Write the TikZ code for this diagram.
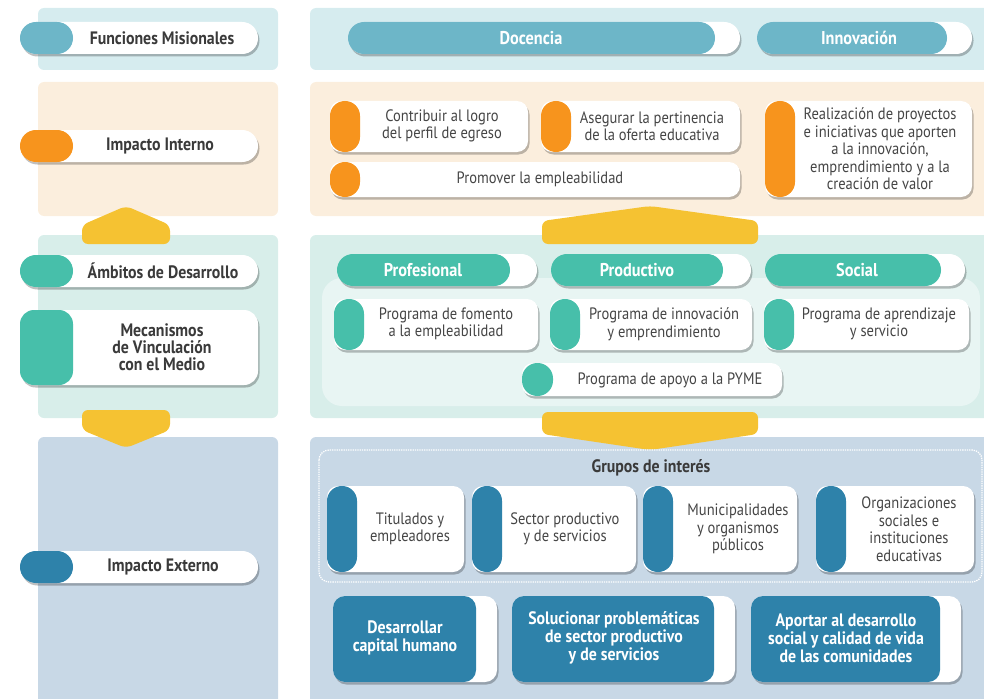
\documentclass[tikz,border=0pt]{standalone}
\usepackage{fontspec}
\setmainfont{PT Sans}[FakeStretch=0.88]
\usetikzlibrary{shadows,calc}
\definecolor{pcyan}{HTML}{D6ECEF}
\definecolor{ppeach}{HTML}{FBEEDD}
\definecolor{pteal}{HTML}{D8EEEA}
\definecolor{pteallight}{HTML}{E8F5F3}
\definecolor{pblue}{HTML}{C8D8E6}
\definecolor{cblue}{HTML}{6DB6C8}
\definecolor{corange}{HTML}{F7941D}
\definecolor{cteal}{HTML}{47BFAA}
\definecolor{cdblue}{HTML}{2E82AA}
\definecolor{cyellow}{HTML}{F5C232}
\definecolor{txt}{HTML}{3A3A3A}
\definecolor{btxt}{HTML}{454545}
\newcommand{\capbox}[8]{%
  \fill[whitebox, rounded corners=#7] (#1,#2) rectangle (#3,#4);
  \fill[#6, rounded corners=#8] (#1,#2) rectangle (#5,#4);
}
\tikzset{
  panel/.style={rounded corners=6pt},
  whitebox/.style={fill=white, drop shadow={shadow xshift=1.5pt, shadow yshift=-2.5pt, opacity=0.25, fill=black}},
  lbl/.style={font=\fontsize{18}{17}\selectfont\bfseries, text=txt, align=center},
  hdr/.style={font=\fontsize{18.5}{18}\selectfont\bfseries, text=white, align=center},
  body/.style={font=\fontsize{16.5}{17.5}\selectfont, text=btxt, align=center},
  bigw/.style={font=\fontsize{18}{18}\selectfont\bfseries, text=white, align=center},
  yarrow/.style={fill=cyellow, rounded corners=6pt},
}
\begin{document}
\begin{tikzpicture}[x=1pt,y=-1pt]
\useasboundingbox (0,0) rectangle (984,698);
% ---------- panels
\fill[pcyan, panel] (38,8) rectangle (278,70);
\fill[ppeach, panel] (38,82) rectangle (278,216);
\fill[pteal, panel] (38,235) rectangle (278,418);
\fill[pblue, panel] (38,437) rectangle (278,705);
\fill[pcyan, panel] (310,8) rectangle (995,70);
\fill[ppeach, panel] (310,82) rectangle (995,216);
\fill[pteal, panel] (310,235) rectangle (995,418);
\fill[pteallight, rounded corners=20pt] (322,278) rectangle (980,406);
\fill[pblue, panel] (310,437) rectangle (995,705);
% ---------- yellow arrows
\fill[yarrow] (82,244) -- (82,225) -- (126,206) -- (170,225) -- (170,244) -- cycle;
\fill[yarrow] (82,410) -- (170,410) -- (170,430) -- (126,448) -- (82,430) -- cycle;
\fill[yarrow] (542,244) -- (542,221) -- (650,206) -- (758,221) -- (758,244) -- cycle;
\fill[yarrow] (542,412) -- (758,412) -- (758,434) -- (650,450) -- (542,434) -- cycle;
% ---------- left labels
\capbox{20}{22}{258}{54}{73}{cblue}{15.9pt}{15.9pt}
\node[lbl] (fm) at (162,38) {Funciones Misionales};
\capbox{20}{130}{258}{162}{73}{corange}{15.9pt}{15.9pt}
\node[lbl] (ii) at (160,146) {Impacto Interno};
\capbox{20}{255}{258}{287}{73}{cteal}{15.9pt}{15.9pt}
\node[lbl] (ad) at (163,271) {Ámbitos de Desarrollo};
\capbox{20}{310}{258}{385}{73}{cteal}{14pt}{14pt}
\node[lbl] (mv) at (162,347) {Mecanismos\\de Vinculación\\con el Medio};
\capbox{20}{551}{258}{583}{73}{cdblue}{15.9pt}{15.9pt}
\node[lbl] (ie) at (163,567) {Impacto Externo};
% ---------- funciones
\capbox{348}{22}{740}{54}{715}{cblue}{15.9pt}{15.9pt}
\node[hdr] (doc) at (531,38) {Docencia};
\capbox{757}{22}{972}{54}{947}{cblue}{15.9pt}{15.9pt}
\node[hdr] (inn) at (859,38) {Innovación};
% ---------- impacto interno
\capbox{330}{101}{528}{152}{360}{corange}{11pt}{14.9pt}
\node[body] (c1) at (442,126) {Contribuir al logro\\del perfil de egreso};
\capbox{541}{101}{740}{152}{571}{corange}{11pt}{14.9pt}
\node[body] (c2) at (652,126) {Asegurar la pertinencia\\de la oferta educativa};
\capbox{330}{162}{740}{197}{360}{corange}{11pt}{14.9pt}
\node[body] (c3) at (540,179) {Promover la empleabilidad};
\capbox{765}{101}{972}{197}{795}{corange}{11pt}{14.9pt}
\node[body] (c4) at (880,149) {Realización de proyectos\\e iniciativas que aporten\\a la innovación,\\emprendimiento y a la\\creación de valor};
% ---------- ambitos
\capbox{337}{254}{537}{286}{510}{cteal}{15.9pt}{15.9pt}
\node[hdr] (pro) at (423,270) {Profesional};
\capbox{551}{254}{751}{286}{723}{cteal}{15.9pt}{15.9pt}
\node[hdr] (prd) at (637,270) {Productivo};
\capbox{765}{254}{965}{286}{941}{cteal}{15.9pt}{15.9pt}
\node[hdr] (soc) at (857,270) {Social};
\capbox{334}{299}{538}{350}{364}{cteal}{11pt}{14.9pt}
\node[body] (m1) at (446,324) {Programa de fomento\\a la empleabilidad};
\capbox{550}{299}{752}{350}{580}{cteal}{11pt}{14.9pt}
\node[body] (m2) at (664,324) {Programa de innovación\\y emprendimiento};
\capbox{764}{299}{969}{350}{794}{cteal}{11pt}{14.9pt}
\node[body] (m3) at (879,324) {Programa de aprendizaje\\y servicio};
\capbox{522}{363}{782}{396}{553}{cteal}{11pt}{15.4pt}
\node[body] (m4) at (670,380) {Programa de apoyo a la PYME};
% ---------- impacto externo
\draw[white, line width=1.3pt, densely dotted, rounded corners=10pt] (319,450) rectangle (982,582);
\node[lbl] (gi) at (651,468) {Grupos de interés};
\capbox{327}{486}{464}{572}{357}{cdblue}{11pt}{14.9pt}
\node[body] (g1) at (410,529) {Titulados y\\empleadores};
\capbox{472}{486}{636}{572}{502}{cdblue}{11pt}{14.9pt}
\node[body] (g2) at (565,529) {Sector productivo\\y de servicios};
\capbox{643}{486}{797}{572}{673}{cdblue}{11pt}{14.9pt}
\node[body] (g3) at (738,529) {Municipalidades\\y organismos\\públicos};
\capbox{816}{486}{974}{572}{846}{cdblue}{11pt}{14.9pt}
\node[body] (g4) at (909,529) {Organizaciones\\sociales e\\instituciones\\educativas};
\capbox{333}{596}{497}{682}{476}{cdblue}{12pt}{12pt}
\node[bigw] (b1) at (405,638) {Desarrollar\\capital humano};
\capbox{512}{596}{735}{682}{714}{cdblue}{12pt}{12pt}
\node[bigw] (b2) at (614,638) {Solucionar problemáticas\\de sector productivo\\y de servicios};
\capbox{751}{596}{961}{682}{940}{cdblue}{12pt}{12pt}
\node[bigw] (b3) at (846,638) {Aportar al desarrollo\\social y calidad de vida\\de las comunidades};
\end{tikzpicture}
\end{document}
